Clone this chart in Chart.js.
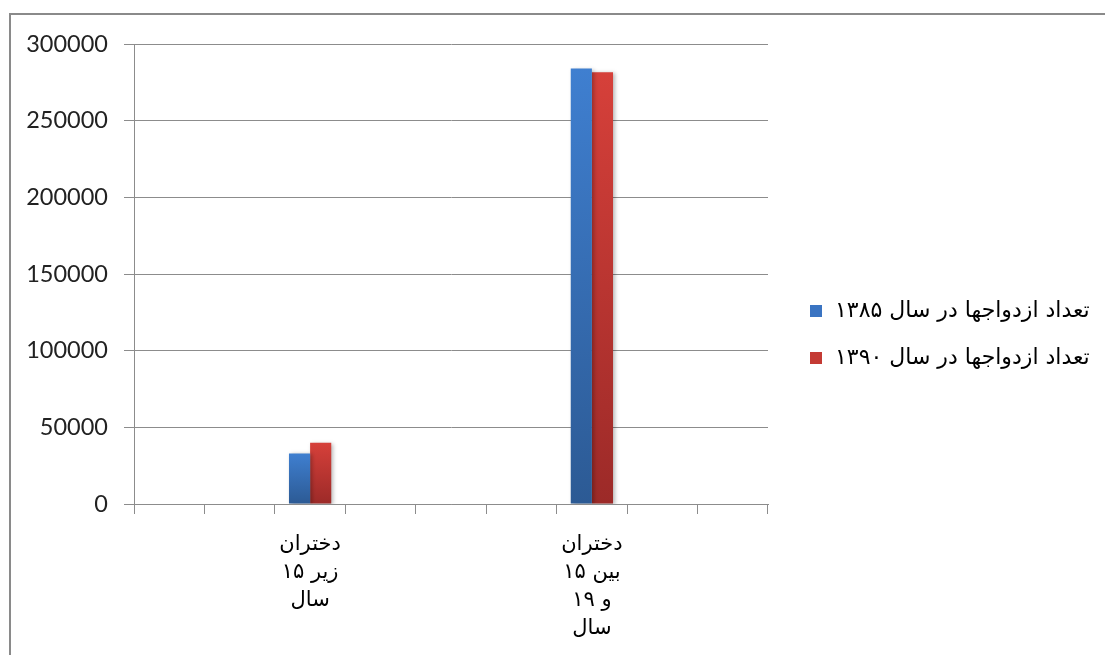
<!DOCTYPE html>
<html>
<head>
<meta charset="utf-8">
<script src="https://cdn.jsdelivr.net/npm/chart.js@4.4.1/dist/chart.umd.min.js"></script>
<style>
  html, body { margin: 0; padding: 0; background: #fff; }
  #frame { position: absolute; left: 9px; top: 13px; width: 1200px; height: 800px; border: 2px solid #8a8a8a; box-sizing: border-box; }
  #wrap { position: absolute; left: 0; top: 0; width: 1105px; height: 655px; }
</style>
</head>
<body>
<div id="frame"></div>
<div id="wrap"><canvas id="c"></canvas></div>
<script>
// ---- data ----
const categories = [
  '', '',
  ['دختران', 'زیر ۱۵', 'سال'],
  '', '', '',
  ['دختران', 'بین ۱۵', 'و ۱۹', 'سال'],
  '', ''
];
const seriesNames = ['تعداد ازدواجها در سال ۱۳۸۵', 'تعداد ازدواجها در سال ۱۳۹۰'];
const values1385 = [null, null, 33000, null, null, null, 284000, null, null];
const values1390 = [null, null, 40000, null, null, null, 281500, null, null];
const yTicks = [0, 50000, 100000, 150000, 200000, 250000, 300000];

const palettes = [
  { top: '#3f7fd0', bottom: '#2c5a94', solid: '#3a74c2' },
  { top: '#d6403a', bottom: '#9c2a28', solid: '#c43a34' }
];

function barGradient(idx) {
  return function (ctx) {
    const chart = ctx.chart;
    const p = palettes[idx];
    if (!chart.chartArea || ctx.raw == null) return p.solid;
    const y = chart.scales.y;
    const top = y.getPixelForValue(ctx.raw);
    const bottom = y.getPixelForValue(0);
    if (!isFinite(top) || Math.abs(bottom - top) < 1) return p.solid;
    const g = chart.ctx.createLinearGradient(0, top, 0, bottom);
    g.addColorStop(0, p.top);
    g.addColorStop(1, p.bottom);
    return g;
  };
}

const shadowPlugin = {
  id: 'barShadow',
  beforeDatasetDraw(chart) {
    const c = chart.ctx;
    c.save();
    c.shadowColor = 'rgba(0,0,0,0.28)';
    c.shadowBlur = 4;
    c.shadowOffsetX = 2;
    c.shadowOffsetY = 1;
  },
  afterDatasetDraw(chart) { chart.ctx.restore(); }
};

// legend drawn on the canvas to the right of the plot
const sideLegend = {
  id: 'sideLegend',
  afterDraw(chart) {
    const c = chart.ctx;
    const area = chart.chartArea;
    const boxX = area.right + 42;
    const firstY = 311, gap = 47;
    c.save();
    c.font = '22px "DejaVu Sans", sans-serif';
    c.textBaseline = 'middle';
    c.textAlign = 'left';
    chart.data.datasets.forEach((ds, i) => {
      const cy = firstY + i * gap;
      c.fillStyle = palettes[i].solid;
      c.fillRect(boxX, cy - 6, 12, 12);
      c.fillStyle = '#000';
      c.fillText(ds.label, boxX + 25, cy);
    });
    c.restore();
  }
};

new Chart(document.getElementById('c'), {
  type: 'bar',
  data: {
    labels: categories,
    datasets: [
      { label: seriesNames[0], data: values1385, backgroundColor: barGradient(0), borderWidth: 0 },
      { label: seriesNames[1], data: values1390, backgroundColor: barGradient(1), borderWidth: 0 }
    ]
  },
  plugins: [shadowPlugin, sideLegend],
  options: {
    responsive: true,
    maintainAspectRatio: false,
    animation: false,
    devicePixelRatio: 1,
    layout: { padding: { left: 0, top: 44, right: 337, bottom: 0 } },
    datasets: { bar: { categoryPercentage: 0.6, barPercentage: 1, skipNull: false } },
    plugins: {
      tooltip: { enabled: false },
      legend: { display: false }
    },
    scales: {
      x: {
        offset: true,
        grid: { display: true, drawOnChartArea: false, drawTicks: true, tickLength: 10, offset: true, color: '#8c8c8c', lineWidth: 1 },
        border: { display: true, color: '#8c8c8c', width: 1 },
        ticks: {
          autoSkip: false, maxRotation: 0, minRotation: 0, padding: 17,
          color: '#000',
          font: { family: '"DejaVu Sans", sans-serif', size: 21, lineHeight: 1.333 }
        },
        afterFit(s) { s.height = 151; }
      },
      y: {
        min: 0, max: 300000,
        afterBuildTicks(s) { s.ticks = yTicks.map(v => ({ value: v })); },
        grid: { color: '#8c8c8c', lineWidth: 1, tickLength: 10, drawTicks: true },
        border: { display: true, color: '#8c8c8c', width: 1 },
        ticks: {
          padding: 16,
          color: '#222',
          font: { family: 'Lato, sans-serif', size: 23.5 },
          callback: v => String(v)
        },
        afterFit(s) { s.width = 134; }
      }
    }
  }
});
</script>
</body>
</html>
